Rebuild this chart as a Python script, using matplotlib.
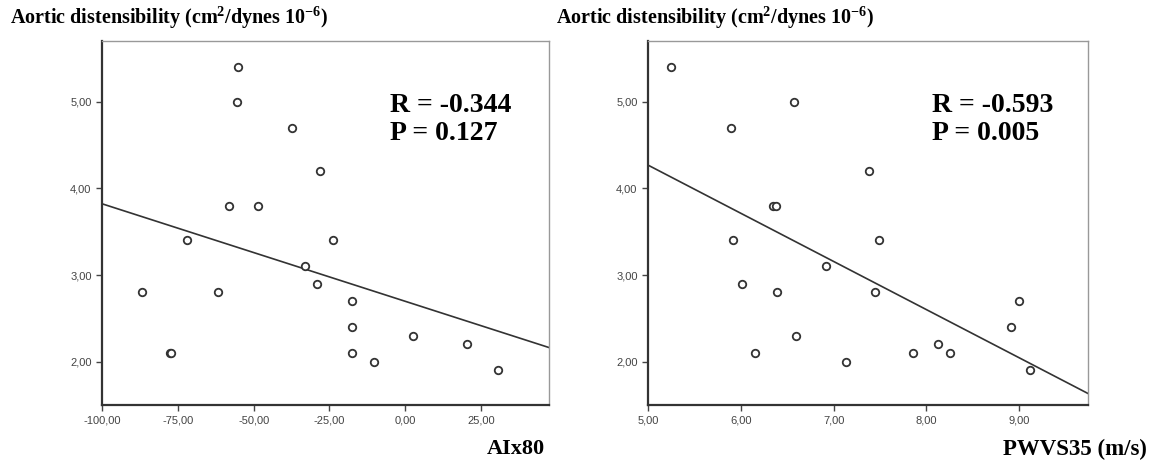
#!/usr/bin/env python3
"""Aortic distensibility vs AIx80 and PWVS35 scatter plots with linear fit."""
import numpy as np
import matplotlib
matplotlib.use("Agg")
import matplotlib.pyplot as plt
from matplotlib.ticker import FuncFormatter

plt.rcParams["mathtext.fontset"] = "custom"
plt.rcParams["mathtext.rm"] = "Liberation Serif:bold"
plt.rcParams["mathtext.it"] = "Liberation Serif:bold:italic"
plt.rcParams["mathtext.bf"] = "Liberation Serif:bold"

# distensibility values (shared y)
aix80 = [-55.0, -55.6, -37.4, -28.0, -58.0, -48.6, -71.9, -23.7, -33.0, -29.1, -86.8,
         -61.9, -17.4, -17.4, -77.6, -77.2, -17.7, -10.3, 2.6, 20.3, 30.7]
dist_aix = [5.4, 5.0, 4.7, 4.2, 3.8, 3.8, 3.4, 3.4, 3.1, 2.9, 2.8,
            2.8, 2.7, 2.4, 2.1, 2.1, 2.1, 2.0, 2.3, 2.2, 1.9]

pwv = [5.25, 6.57, 5.89, 7.38, 6.35, 6.38, 5.92, 7.49, 6.92, 6.01, 6.39,
       7.45, 9.00, 8.91, 6.59, 6.15, 7.13, 7.85, 8.12, 8.25, 9.12]
dist_pwv = [5.4, 5.0, 4.7, 4.2, 3.8, 3.8, 3.4, 3.4, 3.1, 2.9, 2.8,
            2.8, 2.7, 2.4, 2.3, 2.1, 2.0, 2.1, 2.2, 2.1, 1.9]

stats_aix = ["R = -0.344", "P = 0.127"]
stats_pwv = ["R = -0.593", "P = 0.005"]

aix_ticks = [-100, -75, -50, -25, 0, 25]
pwv_ticks = [5, 6, 7, 8, 9]
y_ticks = [2, 3, 4, 5]

comma = FuncFormatter(lambda v, p: f"{v:.2f}".replace(".", ","))
ylabel = r"Aortic distensibility (cm$^{2}$/dynes 10$^{-6}$)"
serif_bold = dict(family="Liberation Serif", weight="bold")


def panel(ax, x, y, xlim, xticks, stats):
    ax.plot(x, y, "o", ms=5.4, mfc="white", mec="#333333", mew=1.3, ls="none", zorder=3)
    slope, icpt = np.polyfit(x, y, 1)
    xs = np.array(xlim)
    ax.plot(xs, icpt + slope * xs, color="#333333", lw=1.2, zorder=2)
    ax.set_xlim(*xlim)
    ax.set_ylim(1.5, 5.7)
    ax.set_xticks(xticks)
    ax.set_yticks(y_ticks)
    ax.xaxis.set_major_formatter(comma)
    ax.yaxis.set_major_formatter(comma)
    ax.tick_params(length=4, width=1, color="#444444", labelsize=8, labelcolor="#444444")
    for lab in ax.get_xticklabels() + ax.get_yticklabels():
        lab.set_family("Liberation Sans")
    for s in ("left", "bottom"):
        ax.spines[s].set_color("#333333")
        ax.spines[s].set_linewidth(1.6)
    for s in ("top", "right"):
        ax.spines[s].set_color("#999999")
        ax.spines[s].set_linewidth(1.0)
    ax.text(0.645, 0.806, stats[0], transform=ax.transAxes, fontsize=20,
            va="baseline", ha="left", **serif_bold)
    ax.text(0.645, 0.728, stats[1], transform=ax.transAxes, fontsize=20,
            va="baseline", ha="left", **serif_bold)


W, H = 1149, 461
fig = plt.figure(figsize=(W / 100, H / 100), dpi=100)
ax1 = fig.add_axes([102 / W, 1 - 405 / H, 447 / W, 364 / H])
ax2 = fig.add_axes([648 / W, 1 - 405 / H, 440 / W, 364 / H])

panel(ax1, aix80, dist_aix, (-100, 47.4), aix_ticks, stats_aix)
panel(ax2, pwv, dist_pwv, (5, 9.74), pwv_ticks, stats_pwv)

fig.text(10 / W, 1 - 24 / H, ylabel, ha="left", va="baseline", fontsize=14.5, **serif_bold)
fig.text(556 / W, 1 - 24 / H, ylabel, ha="left", va="baseline", fontsize=14.5, **serif_bold)
fig.text(545 / W, 1 - 454 / H, "AIx80", ha="right", va="baseline", fontsize=16, **serif_bold)
fig.text(1147 / W, 1 - 455 / H, "PWVS35 (m/s)", ha="right", va="baseline", fontsize=16.5, **serif_bold)

fig.savefig("out.png", dpi=100)
